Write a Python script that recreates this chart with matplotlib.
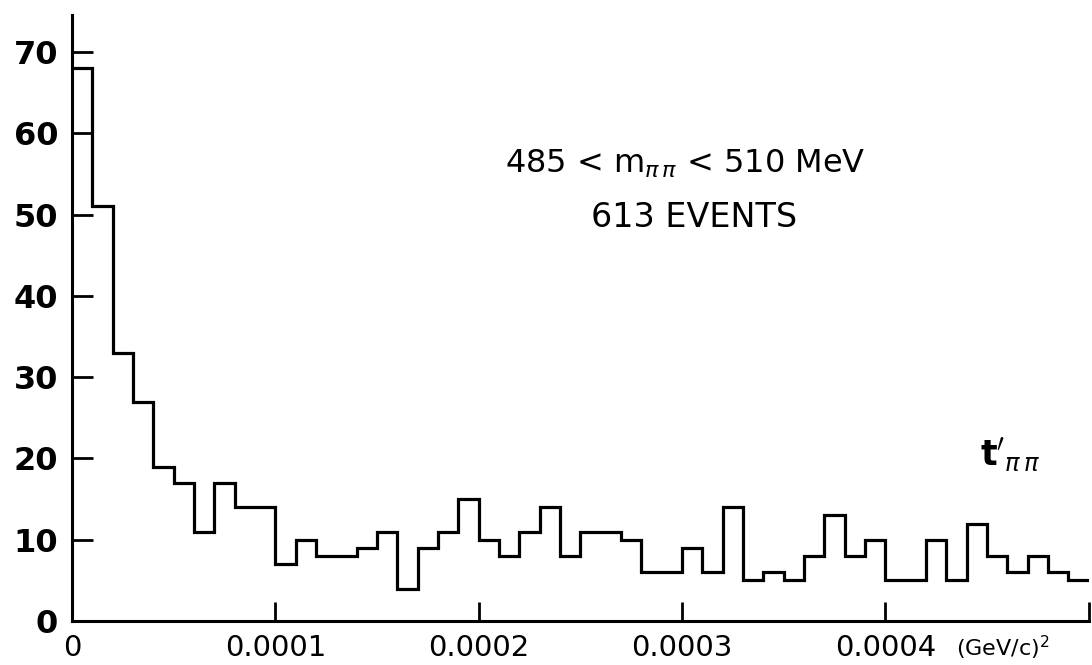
import matplotlib
matplotlib.use("Agg")
import matplotlib.pyplot as plt
import numpy as np

# t' distribution, 50 bins of 1e-5 (GeV/c)^2 from 0 to 5e-4
counts = [68, 51, 33, 27, 19, 17, 11, 17, 14, 14,
          7, 10, 8, 8, 9, 11, 4, 9, 11, 15,
          10, 8, 11, 14, 8, 11, 11, 10, 6, 6,
          9, 6, 14, 5, 6, 5, 8, 13, 8, 10,
          5, 5, 10, 5, 12, 8, 6, 8, 6, 5]
bin_width = 1e-5
x_ticks = [0, 0.0001, 0.0002, 0.0003, 0.0004, 0.0005]
x_tick_labels = ["0", "0.0001", "0.0002", "0.0003", "0.0004", ""]
y_ticks = [0, 10, 20, 30, 40, 50, 60, 70]

edges = np.arange(len(counts) + 1) * bin_width

plt.rcParams["mathtext.fontset"] = "dejavusans"
fig = plt.figure(figsize=(10.92, 6.65), dpi=100)
ax = fig.add_axes([0.066, 0.066, 0.931, 0.911])

ax.stairs(counts, edges, color="black", linewidth=2.3, baseline=None)

ax.set_xlim(0, 0.0005)
ax.set_ylim(0, 74.5)
for side in ["top", "right"]:
    ax.spines[side].set_visible(False)
for side in ["left", "bottom"]:
    ax.spines[side].set_linewidth(2.2)

ax.set_xticks(x_ticks)
ax.set_xticklabels(x_tick_labels, fontsize=21)
ax.set_yticks(y_ticks)
ax.set_yticklabels([str(v) for v in y_ticks], fontsize=23, fontweight="bold")
ax.tick_params(axis="x", direction="in", length=14, width=2, pad=9)
ax.tick_params(axis="y", direction="in", length=15, width=2, pad=10)

# units next to the last labelled tick
ax.text(0.0004345, -1.5, "(GeV/c)$^2$", fontsize=16, ha="left", va="top")

ax.text(0.000213, 56.2, r"485 < m$_{\pi\,\pi}$ < 510 MeV", fontsize=23,
        ha="left", va="center")
ax.text(0.000255, 49.6, "613 EVENTS", fontsize=24, ha="left", va="center")
ax.text(0.0004466, 20.6, r"$\mathbf{t}'_{\pi\,\pi}$", fontsize=25,
        ha="left", va="center")

fig.savefig("out.png", dpi=100)
